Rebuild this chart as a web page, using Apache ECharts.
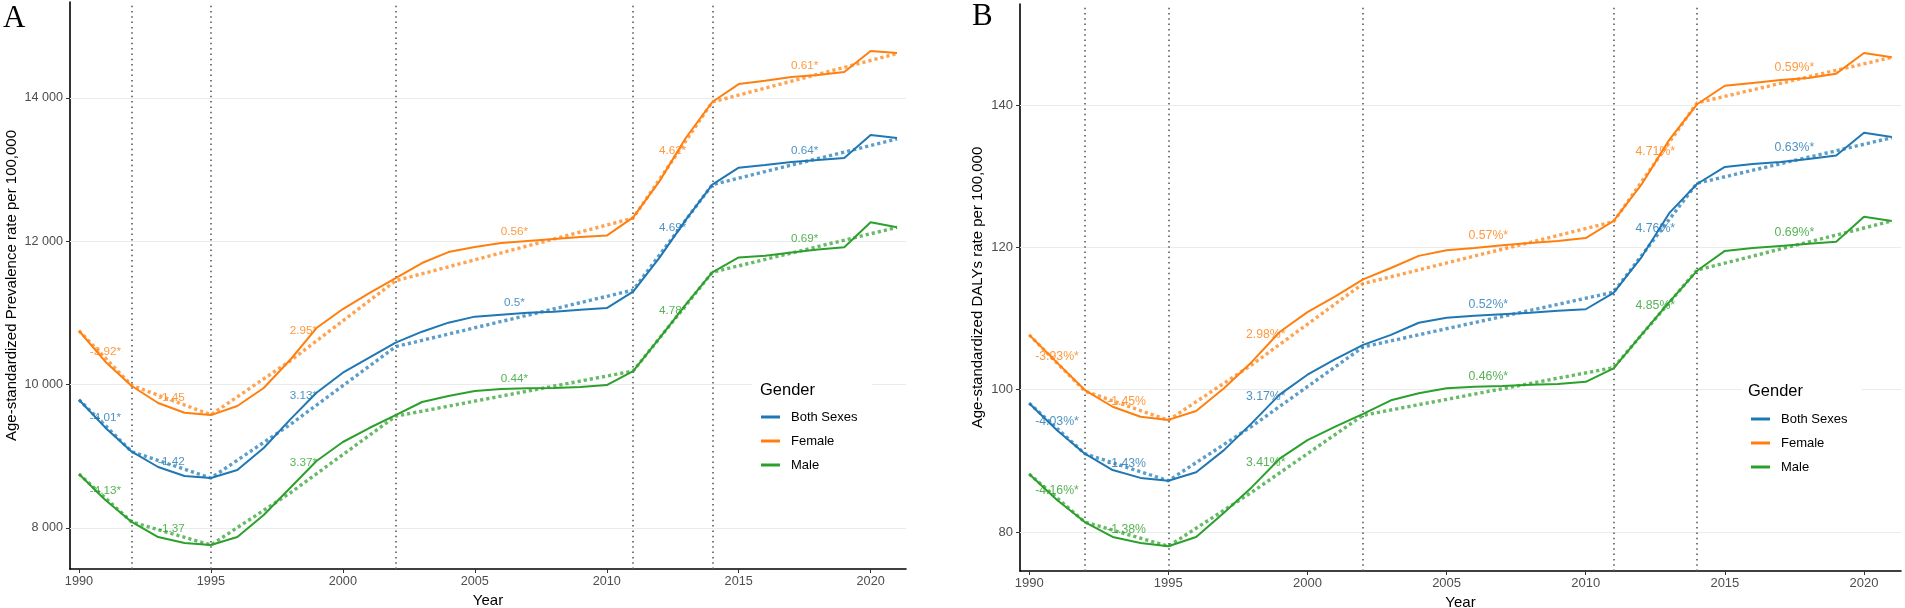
<!DOCTYPE html>
<html>
<head>
<meta charset="utf-8">
<style>html,body{margin:0;padding:0;background:#fff}#c{width:1905px;height:608px}</style>
<script src="https://cdn.jsdelivr.net/npm/echarts@6/dist/echarts.min.js"></script>
</head>
<body>
<div id="c"></div>
<script>
// ---------- data ----------
const years = [1990,1991,1992,1993,1994,1995,1996,1997,1998,1999,2000,2001,2002,2003,2004,2005,2006,2007,2008,2009,2010,2011,2012,2013,2014,2015,2016,2017,2018,2019,2020,2021];
const genders = ['Both Sexes','Female','Male'];

// Panel A: age-standardized prevalence rate per 100,000 (observed)
const prevBoth   = [9790,9400,9065,8851,8725,8697,8809,9116,9512,9888,10167,10377,10586,10739,10865,10949,10977,11004,11018,11046,11068,11297,11772,12302,12790,13027,13065,13107,13135,13163,13484,13442];
const prevFemale = [10752,10320,9981,9744,9608,9575,9702,9953,10344,10790,11055,11278,11488,11697,11850,11920,11976,12004,12032,12060,12080,12335,12840,13445,13944,14194,14240,14293,14321,14363,14656,14628];
const prevMale   = [8753,8391,8084,7874,7791,7763,7874,8181,8558,8935,9200,9395,9576,9758,9841,9911,9939,9950,9953,9967,9995,10190,10650,11120,11568,11775,11800,11845,11885,11916,12265,12195];

// Panel B: age-standardized DALYs rate per 100,000 (observed)
const dalyBoth   = [98.1,94.3,91.0,88.7,87.6,87.2,88.4,91.5,95.3,99.3,102.1,104.3,106.3,107.7,109.4,110.1,110.4,110.6,110.8,111.1,111.3,113.6,118.6,124.8,128.9,131.3,131.7,132.0,132.4,132.9,136.1,135.5];
const dalyFemale = [107.7,103.8,99.95,97.6,96.2,95.75,97.0,100.2,103.9,108.1,110.9,113.1,115.5,117.1,118.8,119.6,119.9,120.3,120.6,120.9,121.3,123.7,128.8,135.1,140.1,142.7,143.1,143.5,143.8,144.4,147.3,146.7];
const dalyMale   = [88.15,84.5,81.4,79.3,78.45,78.0,79.3,82.7,86.3,90.3,92.9,94.8,96.6,98.5,99.5,100.2,100.4,100.5,100.7,100.8,101.1,103.0,107.7,112.3,116.7,119.5,119.9,120.2,120.5,120.8,124.3,123.7];

// Joinpoint fitted values (read at joinpoints)
const fitYears = [1990,1992,1995,1998,2002,2011,2014,2021];
const fitPrevBoth   = [9790,9065,8697,9442,10530,11320,12790,13428];
const fitPrevFemale = [10752,9990,9580,10330,11450,12324,13944,14620];
const fitPrevMale   = [8753,8084,7763,8488,9560,10190,11568,12195];
const fitDalyBoth   = [98.1,91.0,87.2,94.85,106.0,113.7,129.0,135.4];
const fitDalyFemale = [107.7,99.8,95.7,103.5,114.9,123.6,140.3,146.7];
const fitDalyMale   = [88.15,81.4,78.0,85.6,96.4,103.1,116.8,123.7];

// Joinpoint years (vertical dotted lines)
const joinpoints = [1992,1995,2002,2011,2014];

// APC labels
const apcYears = [1991,1993.5,1998.5,2006.5,2012.5,2017.5];
const apcPrevBothText   = ['-4.01*','-1.42','3.13*','0.5*','4.69*','0.64*'];
const apcPrevFemaleText = ['-3.92*','-1.45','2.95*','0.56*','4.62*','0.61*'];
const apcPrevMaleText   = ['-4.13*','-1.37','3.37*','0.44*','4.78*','0.69*'];
const apcPrevBothY   = [9535,8921,9842,11139,12185,13259];
const apcPrevFemaleY = [10455,9814,10748,12129,13259,14446];
const apcPrevMaleY   = [8516,7986,8907,10079,11027,12032];
const apcDalyBothText   = ['-4.03%*','-1.43%','3.17%*','0.52%*','4.76%*','0.63%*'];
const apcDalyFemaleText = ['-3.93%*','-1.45%','2.98%*','0.57%*','4.71%*','0.59%*'];
const apcDalyMaleText   = ['-4.16%*','-1.38%','3.41%*','0.46%*','4.85%*','0.69%*'];
const apcDalyBothY   = [95.5,89.6,99.0,112.0,122.7,134.0];
const apcDalyFemaleY = [104.6,98.3,107.7,121.6,133.4,145.3];
const apcDalyMaleY   = [85.8,80.4,89.7,101.9,111.8,122.0];

// Tick labels
const xTicks = [1990,1995,2000,2005,2010,2015,2020];
const yTicksA = [8000,10000,12000,14000];
const yTicksB = [80,100,120,140];

// ---------- styling ----------
const colors = {'Both Sexes':'#1f77b4','Female':'#ff7f0e','Male':'#2ca02c'};
const FONT = 'Liberation Sans';

const panels = [
  {obs:[prevBoth,prevFemale,prevMale], fit:[fitPrevBoth,fitPrevFemale,fitPrevMale],
   txt:[apcPrevBothText,apcPrevFemaleText,apcPrevMaleText], ty:[apcPrevBothY,apcPrevFemaleY,apcPrevMaleY],
   yTicks:yTicksA, labelSize:11.7},
  {obs:[dalyBoth,dalyFemale,dalyMale], fit:[fitDalyBoth,fitDalyFemale,fitDalyMale],
   txt:[apcDalyBothText,apcDalyFemaleText,apcDalyMaleText], ty:[apcDalyBothY,apcDalyFemaleY,apcDalyMaleY],
   yTicks:yTicksB, labelSize:12.3}
];

function pairs(xs, ys){ return xs.map((x,i)=>[x, ys[i]]); }
function fmtThousands(v){ return String(v).replace(/\B(?=(\d{3})+(?!\d))/g, ' '); }

const series = [];
panels.forEach((p, pi) => {
  series.push({
    type:'line', xAxisIndex:pi, yAxisIndex:pi, data:[], silent:true, z:1,
    markLine:{
      silent:true, symbol:['none','none'], label:{show:false}, z:1, animation:false,
      emphasis:{disabled:true},
      data: p.yTicks.map(v=>({yAxis:v, lineStyle:{color:'#ebebeb', width:1.1, type:'solid'}}))
        .concat(joinpoints.map(y=>({xAxis:y, lineStyle:{color:'#5a5a5a', width:1.6, type:[1.5,3.8]}})))
    }
  });
  genders.forEach((g, gi) => {
    series.push({
      name:g, type:'line', xAxisIndex:pi, yAxisIndex:pi, z:2,
      data: pairs(years, p.obs[gi]), showSymbol:false, symbol:'none',
      lineStyle:{color:colors[g], width:2}, itemStyle:{color:colors[g]}
    });
  });
  genders.forEach((g, gi) => {
    series.push({
      name:g, type:'line', xAxisIndex:pi, yAxisIndex:pi, z:3,
      data: pairs(fitYears, p.fit[gi]), showSymbol:false, symbol:'none',
      lineStyle:{color:colors[g], width:3.4, type:[3.2,3], cap:'butt', opacity:0.72},
      itemStyle:{color:colors[g]}
    });
  });
  genders.forEach((g, gi) => {
    series.push({
      name:g, type:'scatter', xAxisIndex:pi, yAxisIndex:pi, z:4, silent:true,
      symbolSize:1, itemStyle:{color:'transparent'},
      data: apcYears.map((x,i)=>({name:p.txt[gi][i], value:[x, p.ty[gi][i]]})),
      label:{show:true, position:'inside', formatter:'{b}', color:colors[g], fontSize:p.labelSize, fontFamily:FONT}
    });
  });
});

function xAxis(gi, min, max, fs){
  return {
    type:'value', gridIndex:gi, min:min, max:max,
    axisLine:{show:true, onZero:false, lineStyle:{color:'#000', width:1.6}},
    axisTick:{show:true, length:4, customValues:xTicks, lineStyle:{color:'#333', width:1}},
    axisLabel:{customValues:xTicks, color:'#4d4d4d', fontSize:fs, margin:6, fontFamily:FONT, formatter:v=>String(v)},
    splitLine:{show:false},
    name:'Year', nameLocation:'middle', nameGap:22,
    nameTextStyle:{color:'#000', fontSize:15, fontFamily:FONT}
  };
}
function yAxis(gi, min, max, ticks, fs, name, gap, fmt){
  return {
    type:'value', gridIndex:gi, min:min, max:max,
    axisLine:{show:true, lineStyle:{color:'#000', width:1.6}},
    axisTick:{show:true, length:4, customValues:ticks, lineStyle:{color:'#333', width:1}},
    axisLabel:{customValues:ticks, color:'#4d4d4d', fontSize:fs, margin:7, fontFamily:FONT, formatter:fmt},
    splitLine:{show:false},
    name:name, nameLocation:'middle', nameGap:gap, nameRotate:90,
    nameTextStyle:{color:'#000', fontSize:15, fontFamily:FONT}
  };
}

function legend(left, top){
  return {
    orient:'vertical', left:left, top:top, padding:[35,14,8,9],
    itemGap:10, itemWidth:19, itemHeight:3, icon:'rect',
    backgroundColor:'#fff', selectedMode:false,
    data:genders,
    textStyle:{fontSize:13, color:'#000', fontFamily:FONT, lineHeight:14, padding:[0,0,0,6]}
  };
}

const titleFont = {fontFamily:'Liberation Serif', fontSize:31, fontWeight:'normal', color:'#000'};
const legTitleFont = {fontFamily:FONT, fontSize:16.5, fontWeight:'normal', color:'#000'};

const option = {
  animation:false,
  backgroundColor:'#fff',
  title:[
    {text:'A', left:3, top:3, padding:0, textStyle:titleFont},
    {text:'B', left:972, top:1, padding:0, textStyle:titleFont},
    {text:'Gender', left:760, top:382, padding:0, textStyle:legTitleFont},
    {text:'Gender', left:1748, top:383, padding:0, textStyle:legTitleFont}
  ],
  legend:[legend(752,375), legend(1742,377)],
  grid:[
    {left:70, top:2, width:836, height:567, outerBoundsMode:'none'},
    {left:1020, top:4, width:881, height:567, outerBoundsMode:'none'}
  ],
  xAxis:[xAxis(0, 1989.66, 2021.34, 12.7), xAxis(1, 1989.67, 2021.33, 13)],
  yAxis:[
    yAxis(0, 7428, 15339, yTicksA, 12.6, 'Age-standardized Prevalence rate per 100,000', 51, v=>fmtThousands(v)),
    yAxis(1, 74.52, 154.19, yTicksB, 13, 'Age-standardized DALYs rate per 100,000', 35, v=>String(v))
  ],
  series:series
};

const chart = echarts.init(document.getElementById('c'), null, {renderer:'canvas'});
chart.setOption(option);
</script>
</body>
</html>
